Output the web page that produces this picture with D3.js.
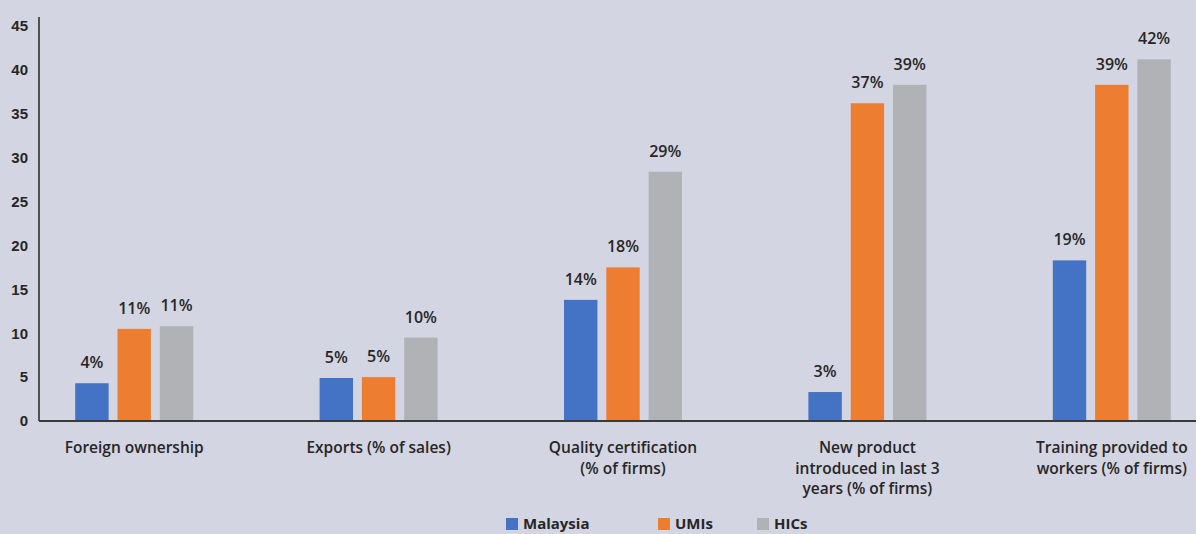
<!DOCTYPE html>
<html>
<head>
<meta charset="utf-8">
<script src="https://cdn.jsdelivr.net/npm/d3@7"></script>
<style>
  body { margin: 0; background: #d4d5e3; }
  svg { display: block; font-family: "Open Sans", "DejaVu Sans", sans-serif; }
  .axis text { font-size: 15px; font-weight: 600; fill: #262626; }
  .axis path, .axis line { stroke: #262626; }
  .cat-label { font-size: 15.5px; font-weight: 600; fill: #262626; }
  .val-label { font-size: 16px; font-weight: 600; fill: #262626; }
  .legend-text { font-size: 15px; font-weight: 700; fill: #262626; }
</style>
</head>
<body>
<svg id="chart"></svg>
<script>
// data
const categories = [
  ['Foreign ownership'],
  ['Exports (% of sales)'],
  ['Quality certification', '(% of firms)'],
  ['New product', 'introduced in last 3', 'years (% of firms)'],
  ['Training provided to', 'workers (% of firms)']
];
const seriesNames = ['Malaysia', 'UMIs', 'HICs'];
const malaysia = [4.3, 4.9, 13.8, 3.3, 18.3];
const umis = [10.5, 5.0, 17.5, 36.2, 38.3];
const hics = [10.8, 9.5, 28.4, 38.3, 41.2];
const malaysiaLabels = ['4%', '5%', '14%', '3%', '19%'];
const umisLabels = ['11%', '5%', '18%', '37%', '39%'];
const hicsLabels = ['11%', '10%', '29%', '39%', '42%'];
const yTicks = [0, 5, 10, 15, 20, 25, 30, 35, 40, 45];

const colors = ['#4472c4', '#ed7d31', '#b1b2b5'];

const width = 1196, height = 534;
const axisX = 39;
const groupW = 118;
const svg = d3.select('#chart').attr('width', width).attr('height', height);

const values = [malaysia, umis, hics];
const labels = [malaysiaLabels, umisLabels, hicsLabels];

// plot runs past the right edge, the source picture is cropped there
const xScale = d3.scaleBand()
    .domain(d3.range(categories.length))
    .range([12, 1234])
    .paddingInner(0)
    .paddingOuter(0);

const xSub = d3.scaleBand()
    .domain(d3.range(seriesNames.length))
    .range([0, groupW])
    .paddingInner(0.21)
    .paddingOuter(0);

const yScale = d3.scaleLinear()
    .domain([0, 45])
    .range([421, 26]);

// y axis
const yAxisG = svg.append('g')
    .attr('class', 'axis y-axis')
    .attr('transform', `translate(${axisX},0)`)
    .call(d3.axisLeft(yScale).tickValues(yTicks).tickSize(0).tickPadding(11));
yAxisG.select('.domain').remove();

svg.append('line')
    .attr('x1', axisX).attr('x2', axisX)
    .attr('y1', 17).attr('y2', yScale(0))
    .attr('stroke', '#262626').attr('stroke-width', 1.5);

// bars
const groups = svg.selectAll('.cat')
    .data(categories)
  .join('g')
    .attr('class', 'cat')
    .attr('transform', (d, i) => `translate(${xScale(i) + xScale.bandwidth() / 2 - groupW / 2},0)`);

seriesNames.forEach((name, s) => {
  groups.append('rect')
      .attr('x', xSub(s))
      .attr('width', xSub.bandwidth())
      .attr('y', (d, i) => yScale(values[s][i]))
      .attr('height', (d, i) => yScale(0) - yScale(values[s][i]))
      .attr('fill', colors[s]);

  groups.append('text')
      .attr('class', 'val-label')
      .attr('x', xSub(s) + xSub.bandwidth() / 2)
      .attr('y', (d, i) => yScale(values[s][i]) - 15)
      .attr('text-anchor', 'middle')
      .text((d, i) => labels[s][i]);
});

// x axis line
svg.append('line')
    .attr('x1', axisX).attr('x2', width)
    .attr('y1', yScale(0)).attr('y2', yScale(0))
    .attr('stroke', '#3a3a3a').attr('stroke-width', 2);

// category labels
groups.append('text')
    .attr('class', 'cat-label')
    .attr('text-anchor', 'middle')
    .each(function(d) {
      const t = d3.select(this);
      d.forEach((line, k) => {
        t.append('tspan')
            .attr('x', groupW / 2)
            .attr('y', 453 + k * 20.5)
            .text(line);
      });
    });

// legend
const legendX = [506, 658, 757];
const legend = svg.append('g').attr('class', 'legend');
seriesNames.forEach((name, s) => {
  legend.append('rect')
      .attr('x', legendX[s]).attr('y', 518)
      .attr('width', 12).attr('height', 12)
      .attr('fill', colors[s]);
  legend.append('text')
      .attr('class', 'legend-text')
      .attr('x', legendX[s] + 17).attr('y', 529)
      .text(name);
});
</script>
</body>
</html>
